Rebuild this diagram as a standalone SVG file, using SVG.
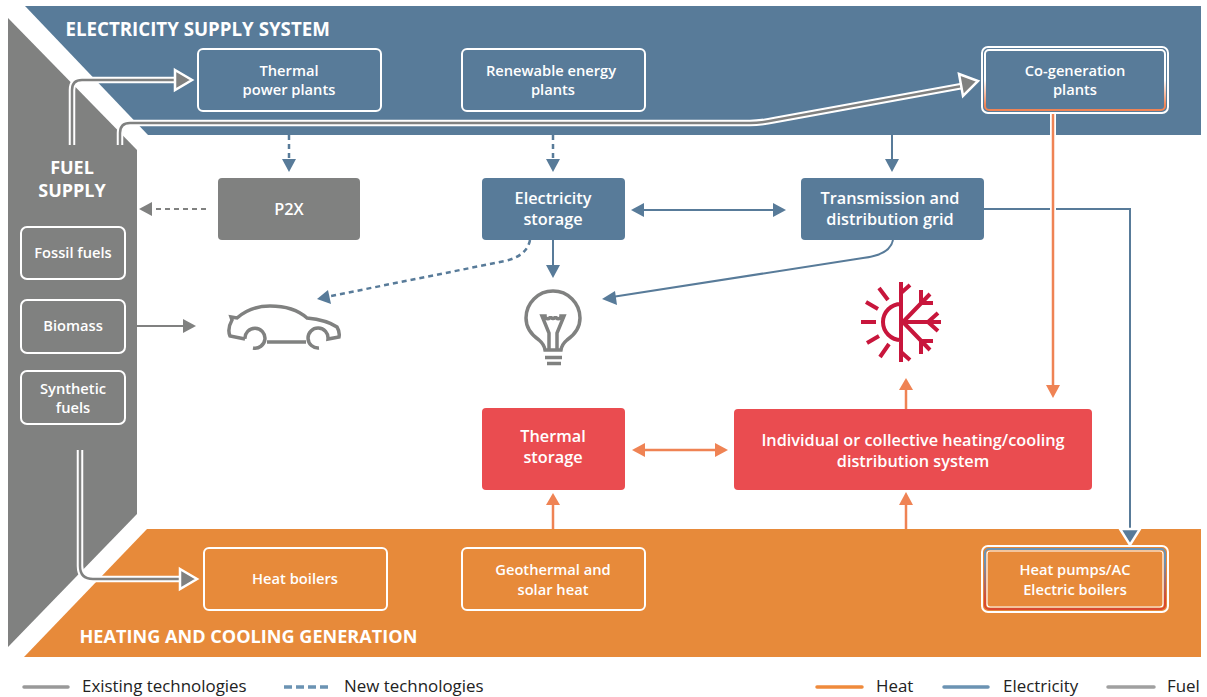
<svg xmlns="http://www.w3.org/2000/svg" width="1207" height="697" viewBox="0 0 1207 697">
<style>
text{font-family:"Open Sans","Noto Sans","Liberation Sans",sans-serif;fill:#fff;text-anchor:middle}
.t{font-size:14.700px;font-weight:600}
.m{font-size:16.300px;font-weight:600}
.h{font-size:18.700px;font-weight:700;text-anchor:start}
.h2{font-size:18.100px;font-weight:700;text-anchor:start}
.f{font-size:18px;font-weight:700}
.l{font-size:16.900px;fill:#222;text-anchor:start}
.o{fill:none;stroke:#fff;stroke-width:2}
.el{fill:none;stroke:#587b99;stroke-width:2}
.elt{fill:none;stroke:#587b99;stroke-width:2.500;stroke-dasharray:5 4}
.ht{fill:none;stroke:#ef8354;stroke-width:2.500}
.g{fill:none;stroke:#808180;stroke-width:2}
.dw{fill:none;stroke:#fff;stroke-width:6.500}
.dg{fill:none;stroke:#808180;stroke-width:2.500}
.ic{fill:none;stroke:#808180;stroke-width:3.500}
.sn{fill:none;stroke:#c8163c;stroke-width:4}
</style>
<defs>
<linearGradient id="gc" x1="0" y1="0" x2="0" y2="1"><stop offset="0.5" stop-color="#fff"/><stop offset="0.92" stop-color="#ef8354"/></linearGradient>
<linearGradient id="gh" x1="0" y1="0" x2="0" y2="1"><stop offset="0.2" stop-color="#6b93b3"/><stop offset="0.85" stop-color="#d9492f"/></linearGradient>
</defs>
<g id="bands">
<polygon points="25,6 1201,6 1201,135 148,135" fill="#587b99"/>
<polygon points="8,18 137,150 137,514 8,647" fill="#808180"/>
<polygon points="147,529 1201,529 1201,657 24,657" fill="#e78a3a"/>
<text class="h" x="65.500" y="36">ELECTRICITY SUPPLY SYSTEM</text>
<text class="h2" x="79.500" y="643">HEATING AND COOLING GENERATION</text>
<text class="f" x="72" y="174">FUEL</text>
<text class="f" x="72" y="197">SUPPLY</text>
</g>
<g id="connectors">
<path class="dw" d="M72,145V90Q72,80 82,80H176"/><path class="dg" d="M72,145V90Q72,80 82,80H176"/>
<polygon points="175,70 192,80 175,90" fill="#808180" stroke="#fff" stroke-width="2.500"/>
<path class="dw" d="M120,145V133Q120,123 130,123H750Q760,123 775,120L962,86"/><path class="dg" d="M120,145V133Q120,123 130,123H750Q760,123 775,120L962,86"/>
<polygon points="959,74 978,81 963,96" fill="#808180" stroke="#fff" stroke-width="2.500"/>
<path class="dw" d="M80,450V566Q80,579 93,579H181"/><path class="dg" d="M80,450V566Q80,579 93,579H181"/>
<polygon points="180,569 197,579 180,589" fill="#808180" stroke="#fff" stroke-width="2.500"/>
<path class="elt" d="M289,135V160"/><polygon points="282,159 296,159 289,172" fill="#587b99"/>
<path class="elt" d="M553,135V160"/><polygon points="546,159 560,159 553,172" fill="#587b99"/>
<path class="el" d="M892,135V160"/><polygon points="885,159 899,159 892,172" fill="#587b99"/>
<path d="M206,209H150" fill="none" stroke="#808180" stroke-width="2" stroke-dasharray="5 4"/><polygon points="152,202 152,216 139,209" fill="#808180"/>
<path class="el" d="M642,210H776"/><polygon points="644,203 644,217 631,210" fill="#587b99"/><polygon points="773,203 773,217 786,210" fill="#587b99"/>
<path class="el" d="M553,240V266"/><polygon points="546,265 560,265 553,278" fill="#587b99"/>
<path class="el" d="M893,240Q890,255 863,258L612,297"/><polygon points="615,291 617,305 602,299" fill="#587b99"/>
<path class="elt" d="M530,240Q527,256 505,261L331,296"/><polygon points="328,290 331,304 317,299" fill="#587b99"/>
<path class="g" d="M137,326H185"/><polygon points="183,319 183,333 196,326" fill="#808180"/>
<path class="el" d="M984,209H1130V532"/><polygon points="1120,529 1140,529 1130,545" fill="#587b99" stroke="#fff" stroke-width="2.500"/>
<path d="M1053,113V386" fill="none" stroke="#fff" stroke-width="6"/>
<path class="ht" d="M1053,113V387"/><polygon points="1046,385 1060,385 1053,398" fill="#ef8354"/>
<path class="ht" d="M642,450H718"/><polygon points="645,443 645,457 632,450" fill="#ef8354"/><polygon points="715,443 715,457 728,450" fill="#ef8354"/>
<path class="ht" d="M553,529V504"/><polygon points="546,505 560,505 553,493" fill="#ef8354"/>
<path class="ht" d="M906,529V504"/><polygon points="899,505 913,505 906,492" fill="#ef8354"/>
<path class="ht" d="M906,413V389"/><polygon points="899,390 913,390 906,378" fill="#ef8354"/>
</g>
<g id="thermal-plants"><rect class="o" x="198" y="49" width="183" height="62" rx="5"/><text class="t" x="289" y="76">Thermal</text><text class="t" x="289" y="95">power plants</text></g>
<g id="renewable"><rect class="o" x="462" y="49" width="183" height="62" rx="5"/><text class="t" x="551" y="76">Renewable energy</text><text class="t" x="553" y="95">plants</text></g>
<g id="cogeneration"><rect class="o" x="982" y="47" width="186" height="66" rx="6"/><rect x="985" y="50" width="180" height="60" rx="4" fill="none" stroke="url(#gc)" stroke-width="2"/><text class="t" x="1075" y="75.500">Co-generation</text><text class="t" x="1075" y="94.500">plants</text></g>
<g id="p2x"><rect x="218" y="178" width="142" height="62" rx="4" fill="#808180"/><text class="m" x="289" y="215">P2X</text></g>
<g id="electricity-storage"><rect x="482" y="178" width="143" height="62" rx="4" fill="#587b99"/><text class="m" x="553" y="204">Electricity</text><text class="m" x="553" y="225">storage</text></g>
<g id="transmission"><rect x="801" y="178" width="183" height="62" rx="4" fill="#587b99"/><text class="m" x="890" y="204">Transmission and</text><text class="m" x="890" y="225">distribution grid</text></g>
<g id="fossil"><rect class="o" x="21" y="227" width="104" height="52" rx="6"/><text class="t" x="73" y="258">Fossil fuels</text></g>
<g id="biomass"><rect class="o" x="21" y="300" width="104" height="53" rx="6"/><text class="t" x="73" y="331">Biomass</text></g>
<g id="synthetic"><rect class="o" x="21" y="371" width="104" height="53" rx="6"/><text class="t" x="73" y="394">Synthetic</text><text class="t" x="73" y="413">fuels</text></g>
<g id="car"><path class="ic" d="M245,339L230,336Q227,329 232,320L231,317L237,318C245,311 255,306 270,306C285,306 298,310 307,318Q327,320 337,327Q340,332 339,337L328,339A10,10 0 1 0 319,348"/><path class="ic" d="M245,339A10,10 0 1 1 253,348M267,342H306"/></g>
<g id="bulb"><path class="ic" d="M545,350Q544,344 539,340Q526,331 526,318A27,27 0 0 1 580,318Q580,331 567,340Q562,344 561,350Z"/><path class="ic" d="M549,350V333L542,316H545A2.500,2.500 0 0 0 550.500,316A2.500,2.500 0 0 0 555.500,316A2.500,2.500 0 0 0 561,316H564L557,333V350M545,357.500H562M547,363.500H561"/></g>
<g id="snow"><path class="sn" d="M901,282V362M901,304A18,18 0 0 0 901,340M861,322H876M866,302L878,309M879,288L888,300M867,343L879,336M880,357L889,344"/><path class="sn" d="M901,293L910,285M901,352L910,360M901,322H941M928,322L938,313M928,322L938,331M903,322L930,294M921,290V303H933M903,322L930,350M921,354V341H933"/></g>
<g id="thermal-storage"><rect x="482" y="408" width="143" height="82" rx="4" fill="#ea4c50"/><text class="m" x="553" y="442">Thermal</text><text class="m" x="553" y="463">storage</text></g>
<g id="heating-system"><rect x="734" y="409" width="358" height="81" rx="4" fill="#ea4c50"/><text class="m" x="913" y="446">Individual or collective heating/cooling</text><text class="m" x="913" y="467">distribution system</text></g>
<g id="heat-boilers"><rect class="o" x="204" y="548" width="183" height="62" rx="5"/><text class="t" x="295" y="584">Heat boilers</text></g>
<g id="geothermal"><rect class="o" x="462" y="548" width="183" height="62" rx="5"/><text class="t" x="553" y="575">Geothermal and</text><text class="t" x="553" y="595">solar heat</text></g>
<g id="heat-pumps"><rect class="o" x="982" y="546" width="186" height="66" rx="6"/><rect x="985" y="549" width="180" height="60" rx="4" fill="none" stroke="url(#gh)" stroke-width="2"/><rect x="987" y="551" width="176" height="56" rx="3" fill="none" stroke="#fff" stroke-width="1.200"/><text class="t" x="1075" y="575">Heat pumps/AC</text><text class="t" x="1075" y="595">Electric boilers</text></g>
<g id="legend">
<path d="M24,687H68" stroke-width="3.500" stroke-linecap="round" fill="none" stroke="#999"/>
<path d="M817,687H862" stroke-width="3.500" stroke-linecap="round" fill="none" stroke="#ef8a3c"/>
<path d="M944,687H988" stroke-width="3.500" stroke-linecap="round" fill="none" stroke="#6b93b3"/>
<path d="M1108,687H1154" stroke-width="3.500" stroke-linecap="round" fill="none" stroke="#a0a0a0"/>
<path d="M284,687H328" stroke-width="3.500" fill="none" stroke="#6b93b3" stroke-dasharray="8 4"/>
<text class="l" x="82" y="692">Existing technologies</text>
<text class="l" x="344" y="692">New technologies</text>
<text class="l" x="876" y="692">Heat</text>
<text class="l" x="1003" y="692">Electricity</text>
<text class="l" x="1167" y="692">Fuel</text>
</g>
</svg>
